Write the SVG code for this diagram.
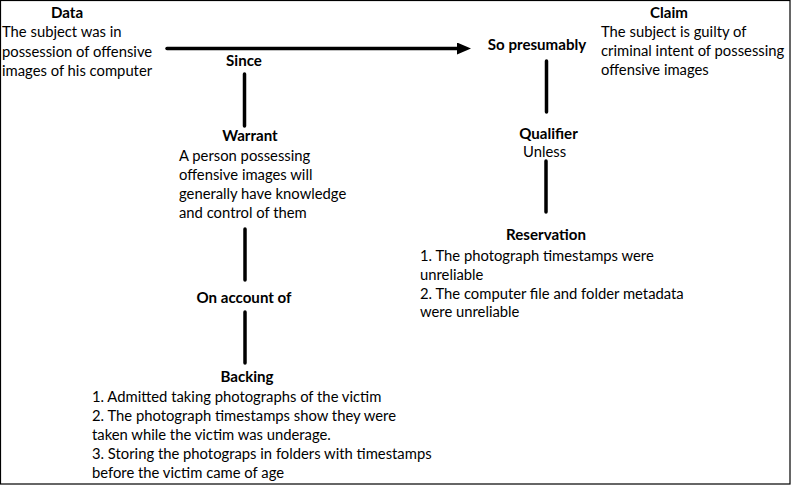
<svg xmlns="http://www.w3.org/2000/svg" width="791" height="485" viewBox="0 0 791 485">
<defs>
<style>
text{font-family:Lato,"Liberation Sans",sans-serif;font-size:14.8px;fill:#000}
.b{font-weight:bold;text-anchor:middle;font-size:15.1px}
.ln{stroke:#000;stroke-width:3.5;stroke-linecap:round;fill:none}
</style>
<marker id="ah" markerUnits="userSpaceOnUse" markerWidth="16" markerHeight="14" refX="0" refY="6" orient="auto" viewBox="0 0 16 14">
<polygon points="0,0 14,6 0,12" fill="#000"/>
</marker>
</defs>
<rect x="0.5" y="0.5" width="789.5" height="483.5" fill="#fff" stroke="#000" stroke-width="1.2"/>
<g id="connectors">
<line class="ln" x1="167" y1="48.5" x2="457" y2="48.5" stroke-linecap="butt" marker-end="url(#ah)"/>
<line class="ln" x1="244.5" y1="74" x2="244.5" y2="126"/>
<line class="ln" x1="245" y1="229" x2="245" y2="280"/>
<line class="ln" x1="245" y1="312" x2="245" y2="363"/>
<line class="ln" x1="546.5" y1="61" x2="546.5" y2="112"/>
<line class="ln" x1="546" y1="161" x2="546" y2="212"/>
</g>
<g id="data">
<text class="b" x="67" y="18">Data</text>
<text x="2" y="37.3">The subject was in</text>
<text x="2" y="56.5">possession of offensive</text>
<text x="2" y="75.7">images of his computer</text>
</g>
<g id="since"><text class="b" x="244" y="66">Since</text></g>
<g id="warrant">
<text class="b" x="250" y="141">Warrant</text>
<text x="179" y="160.7">A person possessing</text>
<text x="179" y="179.9">offensive images will</text>
<text x="179" y="199.1">generally have knowledge</text>
<text x="179" y="218.3">and control of them</text>
</g>
<g id="onaccount"><text class="b" x="244" y="303">On account of</text></g>
<g id="backing">
<text class="b" x="247" y="382">Backing</text>
<text x="92" y="401.5">1. Admitted taking photographs of the victim</text>
<text x="92" y="420.5">2. The photograph timestamps show they were</text>
<text x="92" y="439.5">taken while the victim was underage.</text>
<text x="92" y="458.5">3. Storing the photograps in folders with timestamps</text>
<text x="92" y="477.5">before the victim came of age</text>
</g>
<g id="sopresumably"><text class="b" x="537" y="49.5">So presumably</text></g>
<g id="claim">
<text class="b" x="669" y="18">Claim</text>
<text x="601" y="37">The subject is guilty of</text>
<text x="601" y="56">criminal intent of possessing</text>
<text x="601" y="75">offensive images</text>
</g>
<g id="qualifier">
<text class="b" x="548.5" y="139">Qualifier</text>
<text x="523" y="157">Unless</text>
</g>
<g id="reservation">
<text class="b" x="546" y="240">Reservation</text>
<text x="420" y="261">1. The photograph timestamps were</text>
<text x="420" y="280">unreliable</text>
<text x="420" y="298.5">2. The computer file and folder metadata</text>
<text x="420" y="317">were unreliable</text>
</g>
</svg>
